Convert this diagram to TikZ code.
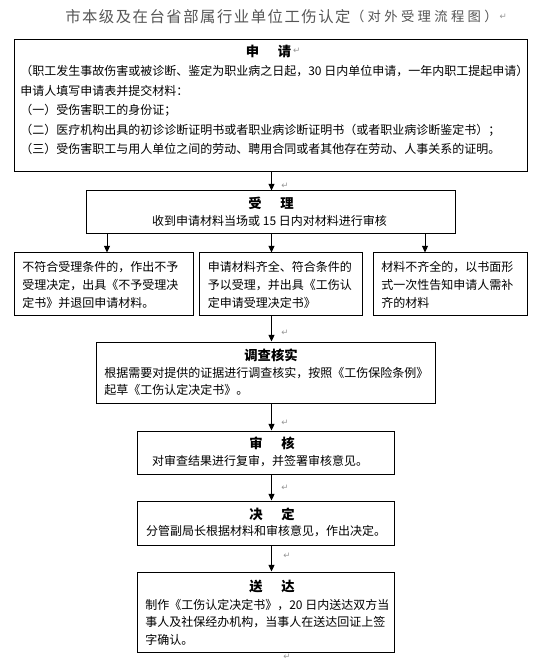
\documentclass[tikz,border=0pt]{standalone}
\usepackage{fontspec}
\setmainfont{Noto Sans CJK SC}
\newfontfamily\titlefont[LetterSpace=10]{Noto Sans CJK SC}
\newfontfamily\parenfont[LetterSpace=25]{Noto Sans CJK SC}
\newfontfamily\markfont{DejaVu Sans}
\usetikzlibrary{arrows.meta,fit}
\definecolor{titlegray}{RGB}{85,85,85}
\definecolor{markgray}{RGB}{150,150,150}
\begin{document}
\begin{tikzpicture}[x=0.75pt,y=-0.75pt,
  box/.style={draw=black, line width=0.75pt, inner sep=0pt},
  arr/.style={-{Triangle[length=5pt,width=4.5pt]}, line width=0.75pt},
  head/.style={inner sep=0pt, font=\fontsize{10pt}{12pt}\selectfont\bfseries},
  body/.style={inner sep=0pt, align=left, font=\fontsize{9pt}{13.5pt}\selectfont},
  bodyc/.style={inner sep=0pt, align=center, font=\fontsize{9pt}{13.5pt}\selectfont},
  pmark/.style={inner sep=0pt, text=markgray, font=\markfont\fontsize{6.5pt}{7pt}\selectfont}
]
\useasboundingbox (0,0) rectangle (546,666);
\fill[white] (0,0) rectangle (546,666);

% title
\node[inner sep=0pt, anchor=west, text=titlegray, font=\titlefont\fontsize{11.5pt}{13pt}\selectfont] (title) at (65,16.5) {市本级及在台省部属行业单位工伤认定};
\node[inner sep=0pt, anchor=west, text=titlegray, font=\parenfont\fontsize{10pt}{11pt}\selectfont] (paren) at (title.east) {（对外受理流程图）};
\node[pmark, anchor=west] (m0) at ([xshift=1pt]paren.east) {↵};

% boxes
\node[box, fit={(14.5,40) (527,172)}] (b1) {};
\node[box, fit={(86,191) (455,234)}] (b2) {};
\node[box, fit={(14.5,253) (193,315)}] (bA) {};
\node[box, fit={(199,253) (362,315)}] (bB) {};
\node[box, fit={(373,253) (527,315)}] (bC) {};
\node[box, fit={(96,342) (435,403)}] (b3) {};
\node[box, fit={(137,431) (394,474)}] (b4) {};
\node[box, fit={(137,501) (394,545)}] (b5) {};
\node[box, fit={(137,572) (394,652)}] (b6) {};

% texts
\node[head] (h1) at (268.5,51) {申\hspace{14pt}请};
\node[pmark, anchor=west] (m1) at ([xshift=1pt]h1.east) {↵};
\node[body, anchor=west, font=\fontsize{9pt}{14.625pt}\selectfont] (t1) at (20,110) {（职工发生事故伤害或被诊断、鉴定为职业病之日起，30 日内单位申请，一年内职工提起申请）\\申请人填写申请表并提交材料：\\（一）受伤害职工的身份证；\\（二）医疗机构出具的初诊诊断证明书或者职业病诊断证明书（或者职业病诊断鉴定书）；\\（三）受伤害职工与用人单位之间的劳动、聘用合同或者其他存在劳动、人事关系的证明。};

\node[head] (h2) at (271,203.5) {受\hspace{14pt}理};
\node[bodyc] (t2) at (269.5,221) {收到申请材料当场或 15 日内对材料进行审核};

\node[body, anchor=west] (tA) at (22,285) {不符合受理条件的，作出不予\\受理决定，出具《不予受理决\\定书》并退回申请材料。};
\node[body, anchor=west] (tB) at (207.5,285) {申请材料齐全、符合条件的\\予以受理，并出具《工伤认\\定申请受理决定书》};
\node[body, anchor=west] (tC) at (381,285) {材料不齐全的，以书面形\\式一次性告知申请人需补\\齐的材料};

\node[head] (h3) at (271,355) {调查核实};
\node[body, anchor=west, font=\fontsize{9pt}{13.125pt}\selectfont] (t3) at (104,381.5) {根据需要对提供的证据进行调查核实，按照《工伤保险条例》\\起草《工伤认定决定书》。};

\node[head] (h4) at (272,443) {审\hspace{14pt}核};
\node[bodyc] (t4) at (260,461.5) {对审查结果进行复审，并签署审核意见。};

\node[head] (h5) at (272,514) {决\hspace{14pt}定};
\node[bodyc] (t5) at (266,531.5) {分管副局长根据材料和审核意见，作出决定。};

\node[head] (h6) at (272,586.5) {送\hspace{14pt}达};
\node[body, anchor=west, font=\fontsize{9pt}{13.125pt}\selectfont] (t6) at (145,622) {制作《工伤认定决定书》，20 日内送达双方当\\事人及社保经办机构，当事人在送达回证上签\\字确认。};

% connectors
\coordinate (mx) at (271.5,0);
\coordinate (ax) at (107,0);
\coordinate (cx) at (425,0);
\draw[arr] (b1.south -| mx) -- (b2.north -| mx);
\draw[arr] (b2.south -| ax) -- (bA.north -| ax);
\draw[arr] (b2.south -| mx) -- (bB.north -| mx);
\draw[arr] (b2.south -| cx) -- (bC.north -| cx);
\draw[arr] (bB.south -| mx) -- (b3.north -| mx);
\draw[arr] (b3.south -| mx) -- (b4.north -| mx);
\draw[arr] (b4.south -| mx) -- (b5.north -| mx);
\draw[arr] (b5.south -| mx) -- (b6.north -| mx);

% paragraph marks
\node[pmark] (m2) at (285,186) {↵};
\node[pmark] (m3) at (285,333) {↵};
\node[pmark] (m4) at (285,423) {↵};
\node[pmark] (m5) at (285,488) {↵};
\node[pmark] (m6) at (287,556) {↵};
\node[pmark] (m7) at (287,657) {↵};
\end{tikzpicture}
\end{document}
